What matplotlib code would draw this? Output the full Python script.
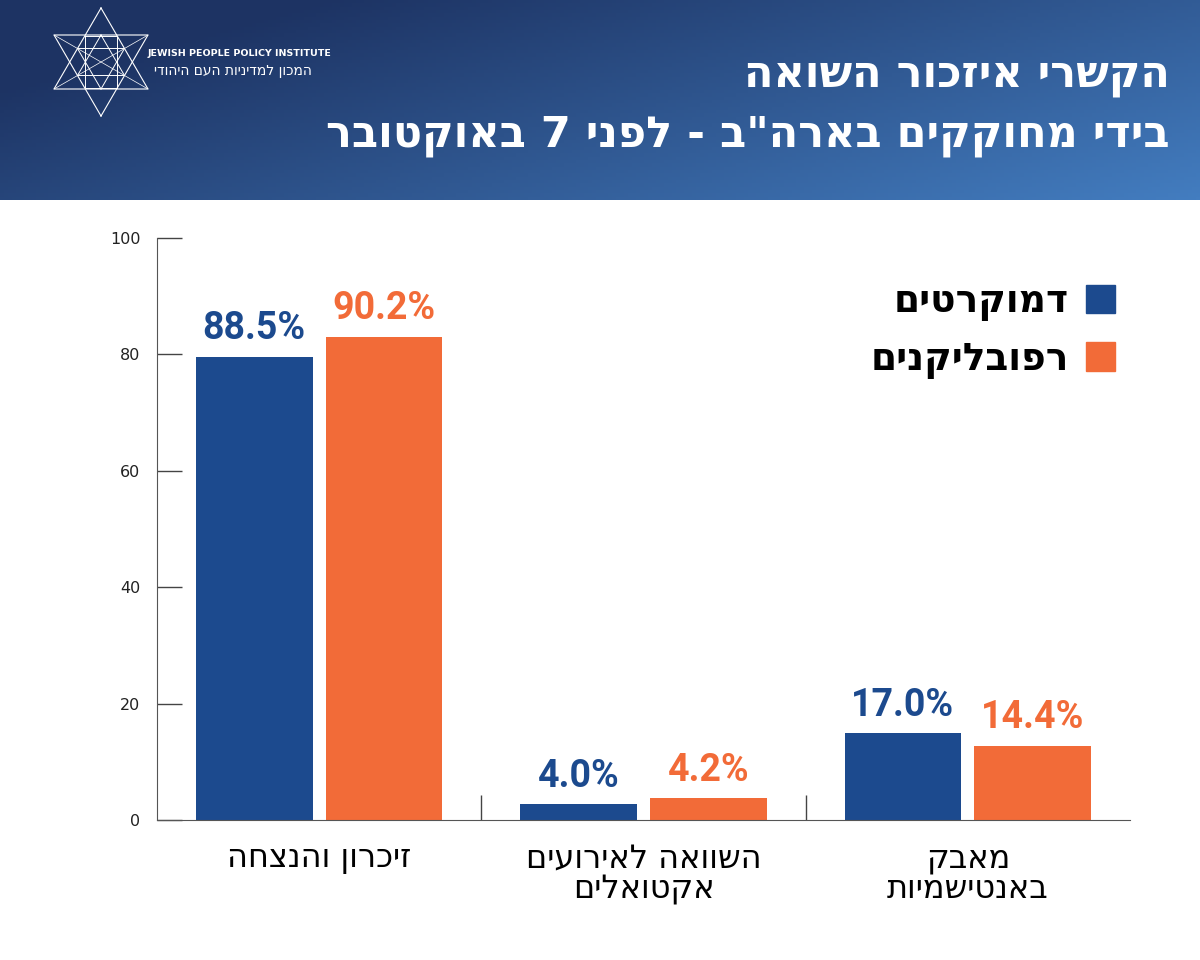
import numpy as np
import matplotlib
matplotlib.use("Agg")
import matplotlib.pyplot as plt
from matplotlib.patches import Patch

plt.rcParams['font.family'] = ['DejaVu Sans']


def rtl(s):
    # matplotlib has no bidi support, so flip each line for display
    return "\n".join(line[::-1] for line in s.split("\n"))


categories = ["זיכרון והנצחה", "השוואה לאירועים\nאקטואלים", "מאבק\nבאנטישמיות"]
dem_vals = [79.6, 2.7, 14.9]
rep_vals = [83.0, 3.7, 12.7]
dem_labels = ["88.5%", "4.0%", "17.0%"]
rep_labels = ["90.2%", "4.2%", "14.4%"]
series_names = ["דמוקרטים", "רפובליקנים"]
yticks = [0, 20, 40, 60, 80, 100]

blue = "#1c4a8e"
orange = "#f26b38"

fig = plt.figure(figsize=(12, 9.6), dpi=100)

# header band with gradient
hdr = fig.add_axes([0, 1 - 200 / 960, 1, 200 / 960])
xx, yy = np.meshgrid(np.linspace(0, 1, 300), np.linspace(0, 1, 60))
t = np.clip(0.75 * xx + 0.45 * yy - 0.2, 0, 1)
c0 = np.array([0x1d, 0x33, 0x63]) / 255
c1 = np.array([0x43, 0x7d, 0xc0]) / 255
img = c0[None, None, :] * (1 - t[..., None]) + c1[None, None, :] * t[..., None]
hdr.imshow(img, extent=[0, 1200, 200, 0], aspect="auto")
hdr.set_xlim(0, 1200)
hdr.set_ylim(200, 0)
hdr.axis("off")

# logo: star made of lines
cx, cy, r = 101, 62, 54
up = [(cx, cy - r), (cx - 0.87 * r, cy + 0.5 * r), (cx + 0.87 * r, cy + 0.5 * r), (cx, cy - r)]
dn = [(cx, cy + r), (cx - 0.87 * r, cy - 0.5 * r), (cx + 0.87 * r, cy - 0.5 * r), (cx, cy + r)]
for tri in (up, dn):
    hdr.plot([p[0] for p in tri], [p[1] for p in tri], color="white", lw=0.8)
s = 16
hdr.plot([cx - s, cx + s, cx + s, cx - s, cx - s], [cy - 26, cy - 26, cy + 26, cy + 26, cy - 26], color="white", lw=0.7)
r2 = 27
up2 = [(cx, cy - r2), (cx - 0.87 * r2, cy + 0.5 * r2), (cx + 0.87 * r2, cy + 0.5 * r2), (cx, cy - r2)]
dn2 = [(cx, cy + r2), (cx - 0.87 * r2, cy - 0.5 * r2), (cx + 0.87 * r2, cy - 0.5 * r2), (cx, cy + r2)]
for tri in (up2, dn2):
    hdr.plot([p[0] for p in tri], [p[1] for p in tri], color="white", lw=0.7)
hdr.plot([cx - 0.87 * r, cx + 0.87 * r], [cy - 0.5 * r, cy + 0.5 * r], color="white", lw=0.5)
hdr.plot([cx - 0.87 * r, cx + 0.87 * r], [cy + 0.5 * r, cy - 0.5 * r], color="white", lw=0.5)
hdr.text(148, 54, "JEWISH PEOPLE POLICY INSTITUTE", color="white", fontsize=6.8,
         fontweight="bold", va="center", ha="left")
hdr.text(312, 71, rtl("המכון למדיניות העם היהודי"), color="white", fontsize=10,
         va="center", ha="right")

hdr.text(1170, 76, rtl("הקשרי איזכור השואה"), color="white", fontsize=31,
         fontweight="bold", ha="right", va="center")
hdr.text(1170, 136, rtl('בידי מחוקקים בארה"ב - לפני 7 באוקטובר'), color="white",
         fontsize=31, fontweight="bold", ha="right", va="center")

# main chart
ax = fig.add_axes([157 / 1200, 1 - 820 / 960, (1130 - 157) / 1200, (820 - 238) / 960])
x = np.arange(len(categories))
w = 0.36
b1 = ax.bar(x - 0.2, dem_vals, w, color=blue)
b2 = ax.bar(x + 0.2, rep_vals, w, color=orange)

for bars, labels, col in ((b1, dem_labels, blue), (b2, rep_labels, orange)):
    for bar, lab in zip(bars, labels):
        ax.annotate(lab, (bar.get_x() + bar.get_width() / 2, bar.get_height()),
                    xytext=(0, 7), textcoords="offset points", ha="center", va="bottom",
                    fontsize=27, fontweight="bold", color=col,
                    family=["Roboto", "DejaVu Sans"])

ax.set_xlim(-0.5, 2.5)
ax.set_ylim(0, 100)
ax.set_yticks(yticks)
ax.tick_params(axis="y", direction="in", length=18, width=1, color="#444444",
               labelsize=11.5, pad=12, labelcolor="#222222")
ax.set_xticks([0.5, 1.5], minor=False)
ax.set_xticklabels([])
ax.tick_params(axis="x", direction="in", length=18, width=1, color="#444444")
for i, c in enumerate(categories):
    ax.text(i, -4.0, rtl(c), ha="center", va="top", fontsize=23, linespacing=1.0,
            transform=ax.transData)
ax.spines["top"].set_visible(False)
ax.spines["right"].set_visible(False)
ax.spines["left"].set_color("#555555")
ax.spines["bottom"].set_color("#555555")

handles = [Patch(color=blue), Patch(color=orange)]
ax.legend(handles, [rtl(n) for n in series_names], loc="upper right",
          bbox_to_anchor=((1115 - 157) / 973, (820 - 284) / 582), markerfirst=False,
          frameon=False, borderpad=0, borderaxespad=0,
          prop={"size": 27, "weight": "bold"}, handlelength=0.78, handleheight=0.78,
          labelspacing=0.55, handletextpad=0.45)

fig.savefig("out.png", dpi=100)
